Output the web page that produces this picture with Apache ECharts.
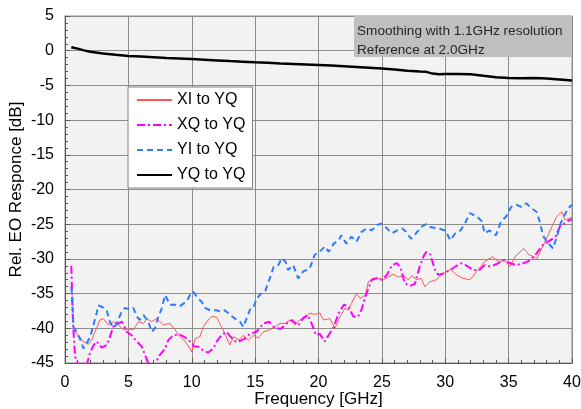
<!DOCTYPE html>
<html>
<head>
<meta charset="utf-8">
<script src="https://cdn.jsdelivr.net/npm/echarts@6/dist/echarts.min.js"></script>
<style>html,body{margin:0;padding:0;background:#fff}#c{width:581px;height:409px}</style>
</head>
<body>
<div id="c"></div>
<script>
// ---- data (frequency GHz, response dB) ----
const xiToYq = [[0.66,-40.2],[1.05,-41.0],[1.45,-41.9],[1.84,-42.3],[2.1,-41.7],[2.37,-40.5],[2.76,-38.8],[3.02,-38.6],[3.42,-39.5],[3.81,-39.05],[4.2,-39.5],[4.6,-40.2],[5.0,-40.1],[5.4,-40.2],[5.8,-39.05],[6.2,-39.3],[6.45,-38.6],[6.84,-39.05],[7.23,-38.6],[7.76,-39.5],[8.28,-39.3],[8.68,-40.2],[9.07,-41.2],[9.47,-41.9],[9.86,-42.9],[10.0,-43.4],[10.26,-41.5],[10.65,-41.2],[10.9,-39.8],[11.3,-38.8],[11.57,-38.3],[11.97,-38.4],[12.2,-39.3],[12.6,-40.7],[13.0,-42.4],[13.3,-41.2],[13.7,-41.7],[14.07,-41.0],[14.46,-41.7],[14.86,-41.0],[15.25,-41.4],[15.65,-40.5],[16.17,-40.2],[16.57,-39.8],[16.96,-39.3],[17.36,-39.3],[17.75,-38.8],[18.15,-39.5],[18.5,-38.8],[18.9,-38.6],[19.3,-37.8],[19.7,-38.0],[20.1,-37.8],[20.4,-38.8],[20.9,-38.6],[21.3,-40.0],[21.7,-38.3],[22.1,-37.1],[22.35,-37.4],[22.6,-36.4],[23.0,-35.0],[23.3,-35.7],[23.7,-35.2],[23.93,-33.3],[24.3,-32.8],[24.7,-32.8],[25.1,-33.0],[25.5,-32.6],[25.9,-32.2],[26.3,-32.6],[26.7,-32.4],[27.1,-33.0],[27.35,-32.4],[27.75,-33.0],[28.1,-32.8],[28.4,-34.0],[28.8,-33.3],[29.3,-33.0],[29.85,-32.1],[30.4,-31.5],[30.9,-32.3],[31.4,-32.8],[31.95,-33.0],[32.5,-31.8],[33.1,-30.4],[33.7,-29.7],[34.2,-30.4],[34.7,-30.2],[35.1,-31.1],[35.5,-29.7],[36.2,-28.5],[36.6,-29.4],[37.0,-29.7],[37.2,-30.0],[37.7,-28.2],[38.4,-25.4],[38.8,-23.9],[39.2,-23.2],[39.45,-24.4],[39.7,-24.2],[40,-24.0]];

const xqToYq = [[0.5,-31.0],[0.57,-36],[0.66,-40.2],[0.8,-44.1],[1.05,-45.2],[1.4,-46],[1.7,-45.3],[1.97,-43.6],[2.2,-42.6],[2.5,-41.9],[2.9,-42.8],[3.3,-42.4],[3.55,-41.2],[3.8,-39.8],[4.2,-39.3],[4.5,-39.05],[4.87,-40.5],[5.26,-41.0],[5.66,-41.9],[6.05,-42.6],[6.45,-44.5],[6.7,-45.5],[7.0,-46],[7.36,-44.1],[7.6,-43.6],[7.9,-42.9],[8.15,-41.7],[8.54,-41.0],[9.07,-40.9],[9.47,-41.3],[9.86,-41.9],[10.2,-42.6],[10.6,-42.7],[10.9,-43.2],[11.3,-43.5],[11.7,-42.9],[12.0,-41.8],[12.4,-40.9],[12.75,-40.5],[13.0,-41.1],[13.5,-42.0],[14.1,-41.6],[14.6,-40.8],[15.1,-40.5],[15.65,-39.3],[16.1,-39.05],[16.5,-39.9],[17.0,-40.1],[17.5,-39.3],[17.9,-38.8],[18.4,-39.6],[18.8,-38.5],[19.15,-38.1],[19.5,-39.5],[19.8,-41.0],[20.1,-40.8],[20.5,-41.9],[20.8,-41.0],[21.2,-39.8],[21.6,-37.8],[22.0,-36.6],[22.35,-36.8],[22.75,-38.3],[23.1,-38.4],[23.4,-37.3],[23.7,-35.4],[24.0,-34.0],[24.2,-33.0],[24.6,-32.8],[25.0,-33.0],[25.4,-32.3],[25.8,-30.9],[26.2,-30.6],[26.5,-31.4],[26.8,-33.5],[27.2,-33.9],[27.6,-33.6],[28.0,-31.0],[28.3,-29.6],[28.5,-29.0],[28.8,-29.3],[29.2,-31.6],[29.45,-32.3],[29.85,-32.1],[30.4,-31.6],[30.8,-31.1],[31.3,-30.6],[31.8,-31.1],[32.2,-31.6],[32.7,-31.6],[33.1,-30.9],[33.6,-31.1],[34.2,-30.6],[34.6,-30.2],[35.1,-30.6],[35.6,-30.9],[36.2,-30.6],[36.7,-30.2],[37.2,-29.2],[37.7,-28.0],[38.3,-27.3],[38.7,-26.8],[39.1,-25.1],[39.45,-24.9],[39.8,-24.4],[40,-24.3]];

const yiToYq = [[0.5,-34],[0.57,-35.5],[0.66,-39.8],[0.92,-40.5],[1.3,-42.0],[1.45,-42.9],[1.7,-42.2],[2.0,-41.2],[2.2,-39.8],[2.5,-37.8],[2.63,-36.7],[3.0,-37.0],[3.3,-37.5],[3.55,-39.1],[3.8,-39.9],[4.0,-39.6],[4.47,-37.6],[4.73,-37.05],[5.13,-37.3],[5.4,-37.1],[5.66,-38.3],[5.9,-38.8],[6.2,-38.1],[6.57,-39.05],[6.84,-40.5],[7.1,-40.0],[7.36,-38.3],[7.6,-37.3],[7.9,-35.2],[8.28,-36.6],[8.68,-36.6],[9.07,-36.8],[9.6,-36.1],[9.86,-35.2],[10.1,-34.7],[10.5,-35.7],[10.8,-36.2],[11.05,-37.05],[11.44,-37.4],[11.9,-37.4],[12.36,-37.6],[12.6,-37.4],[13.0,-38.0],[13.4,-38.6],[13.8,-39.05],[14.07,-39.8],[14.3,-38.7],[14.6,-37.3],[14.86,-37.05],[15.1,-35.8],[15.4,-35.1],[15.8,-34.6],[16.2,-32.6],[16.45,-31.2],[16.8,-31.0],[17.1,-29.9],[17.4,-30.4],[17.6,-31.6],[18.0,-30.9],[18.4,-32.8],[18.8,-31.8],[19.3,-31.4],[19.7,-29.4],[20.1,-28.96],[20.5,-28.2],[20.8,-28.96],[21.2,-27.8],[21.6,-27.3],[21.8,-26.6],[22.2,-27.8],[22.6,-26.8],[23.0,-27.5],[23.4,-26.1],[23.8,-25.6],[24.2,-25.9],[24.6,-25.1],[25.0,-24.9],[25.4,-25.6],[25.8,-26.3],[26.2,-25.9],[26.6,-25.6],[26.9,-26.1],[27.3,-27.1],[27.7,-26.3],[28.1,-25.4],[28.5,-25.0],[28.8,-25.4],[29.45,-25.6],[30.0,-25.9],[30.4,-27.3],[30.8,-26.3],[31.2,-25.9],[31.55,-24.9],[31.95,-23.4],[32.5,-23.9],[32.9,-24.6],[33.1,-26.3],[33.5,-25.9],[34.0,-26.6],[34.4,-24.6],[34.8,-23.9],[35.2,-22.5],[35.6,-22.2],[36.0,-22.5],[36.4,-22.0],[36.8,-22.7],[37.2,-23.2],[37.5,-24.9],[37.7,-26.6],[38.0,-27.5],[38.26,-28.0],[38.5,-28.5],[38.8,-26.8],[39.1,-24.9],[39.3,-24.1],[39.7,-22.7],[40,-22.2]];

const yqToYq = [[0.5,0.5],[1,0.3],[1.5,0.05],[2,-0.15],[3,-0.4],[4,-0.6],[5,-0.76],[6,-0.85],[7,-0.95],[8,-1.05],[9,-1.12],[10,-1.2],[11,-1.3],[12,-1.4],[13,-1.5],[14,-1.58],[15,-1.67],[16,-1.75],[17,-1.83],[18,-1.9],[19,-1.98],[20,-2.06],[21,-2.15],[22,-2.25],[23,-2.35],[24,-2.45],[25,-2.55],[26,-2.7],[27,-2.88],[28,-3.0],[28.5,-3.05],[29,-3.3],[29.5,-3.4],[30,-3.35],[31,-3.35],[32,-3.4],[33,-3.6],[34,-3.83],[35,-3.95],[36,-3.98],[37,-3.95],[38,-4.0],[39,-4.15],[40,-4.3]];

const seriesNames = ['XI to YQ', 'XQ to YQ', 'YI to YQ', 'YQ to YQ'];
const noteLines = ['Smoothing with 1.1GHz resolution', 'Reference at 2.0GHz'];
const xTitle = 'Frequency [GHz]';
const yTitle = 'Rel. EO Responce [dB]';

const FONT = '"Liberation Sans", Arial, sans-serif';
const chart = echarts.init(document.getElementById('c'), null, {renderer: 'canvas'});
const axisCommon = {
  axisLine: {show: true, onZero: false, lineStyle: {color: '#595959', width: 1}},
  axisTick: {show: true, inside: true, length: 5, lineStyle: {color: '#595959'}},
  minorTick: {show: true, splitNumber: 5, length: 3, lineStyle: {color: '#595959'}},
  splitLine: {show: true, lineStyle: {color: '#8c8c8c', width: 1}},
  axisLabel: {color: '#000', fontSize: 16, fontFamily: FONT},
  nameTextStyle: {color: '#000', fontSize: 17, fontFamily: FONT},
  nameLocation: 'middle',
  nameMoveOverlap: false
};
chart.setOption({
  animation: false,
  backgroundColor: '#fff',
  grid: {left: 65, right: 9, top: 16, bottom: 46, outerBoundsMode: 'none', containLabel: false,
         show: true, backgroundColor: '#f2f2f2', borderColor: '#8c8c8c', borderWidth: 1},
  xAxis: Object.assign({}, axisCommon, {
    type: 'value', min: 0, max: 40, interval: 5,
    name: xTitle, nameGap: 28,
    axisLabel: Object.assign({}, axisCommon.axisLabel, {margin: 12})
  }),
  yAxis: Object.assign({}, axisCommon, {
    type: 'value', min: -45, max: 5, interval: 5,
    name: yTitle, nameGap: 40, nameRotate: 90,
    axisLabel: Object.assign({}, axisCommon.axisLabel, {margin: 11})
  }),
  legend: {
    orient: 'vertical', left: 128, top: 87,
    data: seriesNames,
    backgroundColor: '#fff', borderColor: '#808080', borderWidth: 1, borderRadius: 0,
    padding: [5, 7, 5, 8], itemWidth: 35, itemHeight: 16, itemGap: 9,
    itemStyle: {opacity: 0},
    textStyle: {color: '#000', fontSize: 16, fontFamily: FONT}
  },
  graphic: [
    {type: 'rect', left: 354, top: 16, shape: {width: 218, height: 41}, style: {fill: '#bfbfbf'}, z: 10},
    {type: 'text', left: 357, top: 24, style: {text: noteLines[0], fill: '#262626', font: '13.6px ' + FONT}, z: 11},
    {type: 'text', left: 357, top: 43, style: {text: noteLines[1], fill: '#262626', font: '13.6px ' + FONT}, z: 11}
  ],
  series: [
    {name: seriesNames[0], type: 'line', data: xiToYq, showSymbol: false, symbol: 'none', clip: true,
     lineStyle: {color: '#ff5555', width: 1}, itemStyle: {color: '#ff5555'}},
    {name: seriesNames[1], type: 'line', data: xqToYq, showSymbol: false, symbol: 'none', clip: true,
     lineStyle: {color: '#ff00ff', width: 2, type: [8, 3, 2, 3]}, itemStyle: {color: '#ff00ff'}},
    {name: seriesNames[2], type: 'line', data: yiToYq, showSymbol: false, symbol: 'none', clip: true,
     lineStyle: {color: '#2e7bff', width: 2, type: [6, 4]}, itemStyle: {color: '#2e7bff'}},
    {name: seriesNames[3], type: 'line', data: yqToYq, showSymbol: false, symbol: 'none', clip: true,
     lineStyle: {color: '#000', width: 2.5}, itemStyle: {color: '#000'}}
  ]
});
</script>
</body>
</html>
